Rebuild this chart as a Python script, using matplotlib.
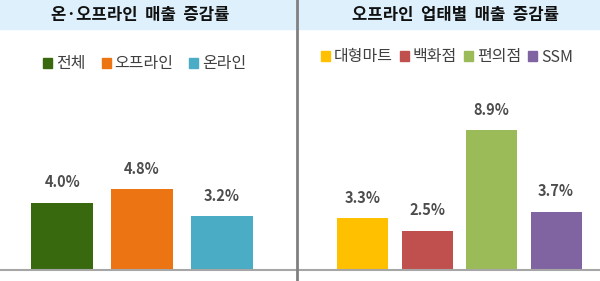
import matplotlib.pyplot as plt
from matplotlib.patches import Patch, Rectangle

plt.rcParams['font.family'] = ['Noto Sans CJK KR', 'DejaVu Sans']

# data
left_title = '온·오프라인  매출  증감률'
left_cats = ['전체', '오프라인', '온라인']
left_vals = [4.0, 4.8, 3.2]
left_colors = ['#38690f', '#ec7413', '#4bacc6']

right_title = '오프라인  업태별  매출  증감률'
right_cats = ['대형마트', '백화점', '편의점', 'SSM']
right_vals = [3.3, 2.5, 8.9, 3.7]
right_colors = ['#ffc000', '#c0504d', '#9bbb59', '#8064a2']

W, H = 600, 281
fig = plt.figure(figsize=(W / 100, H / 100), dpi=100)

# title band + divider
fig.patches.append(Rectangle((0, 1 - 29 / H), 1, 29 / H, transform=fig.transFigure,
                             color='#ddf0fb', zorder=0))
fig.add_artist(plt.Line2D([296.5 / W] * 2, [0, 1], transform=fig.transFigure,
                          color='#808080', lw=2))
fig.text(140 / W, 1 - 15 / H, left_title, ha='center', va='center',
         fontsize=12, fontweight='bold', color='#111111')
fig.text(455 / W, 1 - 15 / H, right_title, ha='center', va='center',
         fontsize=12, fontweight='bold', color='#111111')


def panel(rect, cats, vals, colors, xlim, ytop, width, leg_x, leg_y, colsp):
    ax = fig.add_axes(rect)
    x = list(range(len(vals)))
    bars = ax.bar(x, vals, width=width, color=colors)
    for b, v in zip(bars, vals):
        ax.annotate(f'{v:.1f}%', (b.get_x() + b.get_width() / 2, v),
                    xytext=(0, 9), textcoords='offset points', ha='center',
                    va='bottom', fontsize=10.5, fontweight='bold', color='#4d4d4d')
    ax.set_xlim(*xlim)
    ax.set_ylim(0, ytop)
    for s in ['top', 'left', 'right']:
        ax.spines[s].set_visible(False)
    ax.spines['bottom'].set_color('#a6a6a6')
    ax.spines['bottom'].set_linewidth(1.5)
    ax.set_xticks([])
    ax.set_yticks([])
    ax.patch.set_alpha(0)
    handles = [Patch(color=c, label=n) for c, n in zip(colors, cats)]
    fig.legend(handles=handles, loc='center', bbox_to_anchor=(leg_x, leg_y),
               ncol=len(cats), frameon=False, fontsize=11.5, handlelength=0.55,
               handleheight=0.55, handletextpad=0.25, columnspacing=colsp,
               labelcolor='#404040')
    return ax


panel([0, 11 / H, 296 / W, 230 / H], left_cats, left_vals, left_colors,
      (-0.78, 2.93), 230 / 16.8, 0.78, 145 / W, 1 - 64 / H, 1.0)
panel([299 / W, 11 / H, 301 / W, 230 / H], right_cats, right_vals, right_colors,
      (-0.985, 3.68), 230 / 15.7, 0.79, 447 / W, 1 - 57 / H, 0.45)

fig.savefig('out.png', dpi=100)
